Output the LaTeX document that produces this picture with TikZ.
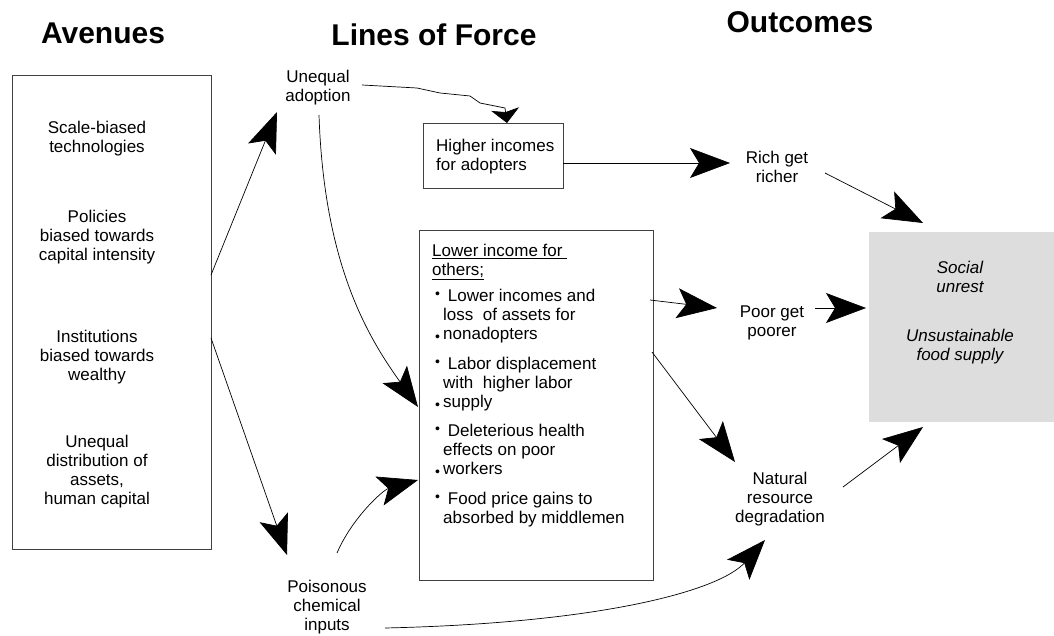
\documentclass[tikz,border=0pt]{standalone}
\usepackage{fontspec}
\setmainfont{Liberation Sans}
\usetikzlibrary{arrows.meta}

\definecolor{outgrey}{RGB}{221,221,221}
\newcommand{\topdot}{\makebox[8pt][l]{\raisebox{3pt}{\fontsize{14}{14}\selectfont\textbullet}}}
\newcommand{\lowdot}{\makebox[8pt][l]{\raisebox{-2pt}{\fontsize{14}{14}\selectfont\textbullet}}}
\newcommand{\nodot}{\hspace*{8pt}}

\tikzset{
  txt/.style={align=center, inner sep=0pt, font=\fontsize{17}{19}\selectfont},
  heading/.style={inner sep=0pt, font=\bfseries\fontsize{30}{34}\selectfont},
  box/.style={draw=black!75, line width=0.9pt, inner sep=0pt},
  big/.style={-{Stealth[length=40pt,width=30pt,inset=9pt]}, line width=0.7pt},
  small/.style={-{Stealth[length=14pt,width=28pt,inset=3pt]}, line width=0.7pt},
}

\begin{document}
\begin{tikzpicture}[x=1pt,y=-1pt]
\useasboundingbox (0,0) rectangle (1054,636);

% column headings
\node[heading] (havenues) at (103,33) {Avenues};
\node[heading] (hforce) at (434,35) {Lines of Force};
\node[heading] (houtcomes) at (800,22) {Outcomes};

% avenues
\node[box, minimum width=199pt, minimum height=474pt] (avbox) at (111.5,312) {};
\node[txt] (scale) at (97,139) {Scale-biased\\technologies};
\node[txt] (policies) at (97,237) {Policies\\biased towards\\capital intensity};
\node[txt] (institutions) at (97,357) {Institutions\\biased towards\\wealthy};
\node[txt] (distribution) at (97,472) {Unequal\\distribution of\\assets,\\human capital};

% lines of force
\node[txt] (adoption) at (318,88) {Unequal\\adoption};
\node[box, minimum width=140pt, minimum height=65pt] (highbox) at (493,155.5) {};
\node[txt, align=left, anchor=west] (hightext) at (436,157) {Higher incomes\\for adopters};
\node[box, minimum width=234pt, minimum height=350pt] (lowbox) at (536,405) {};
\node[txt, align=left, anchor=north west] (lowtext) at (432,244) {%
\underline{Lower income for\hspace*{4pt}}\\
\underline{others;}\\[7pt]
\hspace*{3pt}\topdot\ Lower incomes and\\
\hspace*{3pt}\nodot loss\ \ of assets for\\
\hspace*{3pt}\lowdot nonadopters\\[11pt]
\hspace*{3pt}\topdot\ Labor displacement\\
\hspace*{3pt}\nodot with\ \ higher labor\\
\hspace*{3pt}\lowdot supply\\[10pt]
\hspace*{3pt}\topdot\ Deleterious health\\
\hspace*{3pt}\nodot effects on poor\\
\hspace*{3pt}\lowdot workers\\[11pt]
\hspace*{3pt}\topdot\ Food price gains to\\
\hspace*{3pt}\nodot absorbed by middlemen};
\node[txt] (poison) at (327,607) {Poisonous\\chemical\\inputs};

% outcomes
\node[txt] (rich) at (777,167) {Rich get\\richer};
\node[txt] (poor) at (772,323) {Poor get\\poorer};
\node[txt] (natural) at (780,499) {Natural\\resource\\degradation};
\node[fill=outgrey, inner sep=0pt, minimum width=185pt, minimum height=190pt] (outbox) at (961.5,327) {};
\node[txt, font=\itshape\fontsize{17}{19}\selectfont] (unrest) at (960,277) {Social\\unrest};
\node[txt, font=\itshape\fontsize{17}{19}\selectfont] (food) at (960,347) {Unsustainable\\food supply};

% connectors
\draw[big] ([shift={(99.5,-37)}]avbox.center) -- ([shift={(-41,24)}]adoption.center);
\draw[big] ([shift={(99.5,26)}]avbox.center) -- ([shift={(-40,-52)}]poison.center);
\draw[small] ([shift={(44,-3)}]adoption.center) -- ++(55,3) -- ++(23,5) -- ++(30,3)
  -- ++(10,7) -- ++(25,5) -- ([shift={(14,-32.5)}]highbox.center);
\draw[big] ([shift={(1,27)}]adoption.center) .. controls +(5,150) and +(-50,-70)
  .. ([shift={(-118,2)}]lowbox.center);
\draw[big] ([shift={(10,-54)}]poison.center) .. controls +(15,-35) and +(-35,10)
  .. ([shift={(-118,75)}]lowbox.center);
\draw[big] ([shift={(58,21)}]poison.center) .. controls +(220,-5) and +(-45,50)
  .. ([shift={(-15,41)}]natural.center);
\draw[big] ([shift={(70,7.5)}]highbox.center) -- ([shift={(-47,-4)}]rich.center);
\draw[big] ([shift={(114,-105)}]lowbox.center) -- ([shift={(-55,-15)}]poor.center);
\draw[big] ([shift={(116,-53)}]lowbox.center) -- ([shift={(-45,-37)}]natural.center);
\draw[big] ([shift={(48,6)}]rich.center) -- ([shift={(-38.5,-104)}]outbox.center);
\draw[big] ([shift={(43,-15)}]poor.center) -- ([shift={(-95.5,-19)}]outbox.center);
\draw[big] ([shift={(63,-12)}]natural.center) -- ([shift={(-38.5,100)}]outbox.center);
\end{tikzpicture}
\end{document}
